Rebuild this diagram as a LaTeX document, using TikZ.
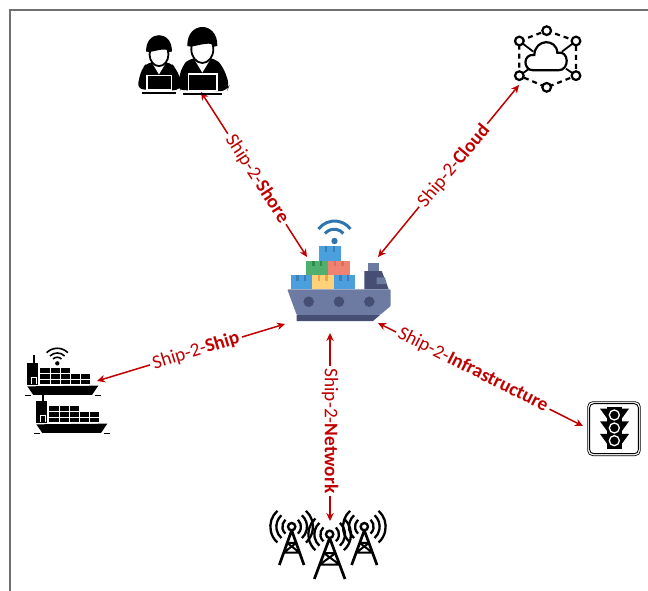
\documentclass[tikz,border=0pt]{standalone}
\usepackage{fontspec}
\setmainfont{Carlito}
\definecolor{arrowred}{HTML}{C00000}
\definecolor{framegrey}{HTML}{707070}
\definecolor{boxblue}{HTML}{4A9FDC}
\definecolor{boxbluedk}{HTML}{3A80B8}
\definecolor{boxgreen}{HTML}{4FB06D}
\definecolor{boxgreendk}{HTML}{2F8A50}
\definecolor{boxred}{HTML}{EF8270}
\definecolor{boxreddk}{HTML}{D96F5E}
\definecolor{boxyellow}{HTML}{FFD27A}
\definecolor{boxyellowdk}{HTML}{F2A24A}
\definecolor{hull}{HTML}{6D7BA3}
\definecolor{hulldk}{HTML}{464F73}
\definecolor{wifiblue}{HTML}{2E75B0}
\usetikzlibrary{arrows.meta}
\tikzset{
  x=1pt,y=-1pt,
  link/.style={draw=arrowred,line width=1.5pt,{Stealth[length=8pt,width=7.5pt]}-{Stealth[length=8pt,width=7.5pt]}},
  linklabel/.style={fill=white,text=arrowred,font=\fontsize{19.3}{21}\selectfont,inner sep=3pt},
  zoomed/.style={x=0.3333pt,y=-0.3333pt},
  node dot/.style={draw=black,fill=white,line width=2.2pt}
}
\newcommand{\crate}[6]{% x1,y1,x2,y2,fill,dark
  \fill[#5] (#1,#2) rectangle (#3,#4);
  \fill[#6] ({#1+(#3-#1)*0.26},#2) rectangle ({#1+(#3-#1)*0.38},{#2+5.5});
  \fill[#6] ({#1+(#3-#1)*0.62},#2) rectangle ({#1+(#3-#1)*0.74},{#2+5.5});
}
\newcommand{\person}{%
  \fill[black,rounded corners=7pt] (-77,50) -- (-62,-20) -- (-38,-46) -- (38,-46) -- (62,-20) -- (82,35) -- (74,54) -- cycle;
  \fill[white] (-30,-52) -- (0,-2) -- (30,-52) -- cycle;
  \draw[black,fill=white,line width=1.8pt] (0,-72) ellipse (33 and 41);
  \fill[black] (-45,-82) .. controls (-47,-158) and (47,-158) .. (45,-82) -- (34,-80) .. controls (32,-98) and (-10,-84) .. (-34,-80) -- cycle;
  \draw[white,fill=black,line width=1.3pt] (-42,2) rectangle (44,52);
  \fill[black] (-59,58) rectangle (58,65);
}
\newcommand{\cargoship}{%
  \fill[black] (70,45) rectangle (74,68);
  \fill[black] (52,68) rectangle (85,136);
  \draw[white,line width=.7pt] (63,133) -- (63,113) -- (79,113) -- (79,133);
  \fill[black] (90,85) rectangle (180,133);
  \fill[black] (180,102) rectangle (240,133);
  \draw[white,line width=.6pt] (90,101) -- (240,101) (90,118) -- (240,118);
  \draw[white,line width=.6pt] (120,85) -- (120,133) (150,85) -- (150,133) (180,85) -- (180,133) (210,102) -- (210,133);
  \fill[black] (52,139) -- (265,137) -- (246,165) -- (70,165) -- cycle;
  \draw[black,line width=.5pt] (44,166) -- (62,166) (255,166) -- (272,166);
}
\newcommand{\towerarcs}[2]{% x,y of the antenna
  \foreach \r in {28,46,64}{
    \draw[black,line width=2.3pt] ({#1+\r*cos(48)},{#2-\r*sin(48)}) arc[start angle=-48,end angle=48,radius=\r];
    \draw[black,line width=2.3pt] ({#1-\r*cos(48)},{#2-\r*sin(48)}) arc[start angle=-132,end angle=-228,radius=\r];
  }
}
\newcommand{\tower}[4]{% x,y,half base,height
  \draw[black,line width=2.4pt] (#1,#2) circle[radius=11];
  \draw[black,line width=2.7pt] (#1,{#2+11}) -- ({#1-#3},{#2+#4}) (#1,{#2+11}) -- ({#1+#3},{#2+#4});
  \draw[black,line width=2pt] ({#1-#3*.38},{#2+#4*.42}) -- ({#1+#3*.38},{#2+#4*.42})
    ({#1-#3*.65},{#2+#4*.68}) -- ({#1+#3*.65},{#2+#4*.68})
    ({#1-#3*.38},{#2+#4*.42}) -- ({#1+#3*.65},{#2+#4*.68})
    ({#1+#3*.38},{#2+#4*.42}) -- ({#1-#3*.65},{#2+#4*.68});
}
\begin{document}
\begin{tikzpicture}
\useasboundingbox (0,0) rectangle (648,591);
% frame
\draw[framegrey,line width=1.2pt] (10,591) -- (10,10) -- (648,10);

% connector ends
\coordinate (shipShore) at (307,257);
\coordinate (shoreEnd) at (201,92);
\coordinate (shipCloud) at (378,257);
\coordinate (cloudEnd) at (519,85);
\coordinate (shipShip) at (285,324);
\coordinate (shipsEnd) at (97,381);
\coordinate (shipNet) at (330,333);
\coordinate (netEnd) at (330,521);
\coordinate (shipInfra) at (378,323);
\coordinate (infraEnd) at (583,426);

\draw[link] (shipShore) -- (shoreEnd);
\draw[link] (shipCloud) -- (cloudEnd);
\draw[link] (shipShip) -- (shipsEnd);
\draw[link] (shipNet) -- (netEnd);
\draw[link] (shipInfra) -- (infraEnd);

\node[linklabel,rotate=-57] (lblShore) at (257,179) {Ship-2-\textbf{Shore}};
\node[linklabel,rotate=50] (lblCloud) at (454,166) {Ship-2-\textbf{Cloud}};
\node[linklabel,rotate=17] (lblShip) at (196,351) {Ship-2-\textbf{Ship}};
\node[linklabel,rotate=-90] (lblNet) at (330,431) {Ship-2-\textbf{Network}};
\node[linklabel,rotate=-26.7] (lblInfra) at (473,370) {Ship-2-\textbf{Infrastructure}};

% central ship
\draw[wifiblue,line width=3pt] (318.5,229) arc[start angle=-143,end angle=-37,radius=20];
\draw[wifiblue,line width=3pt] (325,233.5) arc[start angle=-140,end angle=-40,radius=12];
\fill[wifiblue] (334.5,241) circle[radius=3.2];
\crate{319.3}{246}{340.7}{260.7}{boxblue}{boxbluedk}
\crate{306.3}{260.7}{328}{275}{boxgreen}{boxgreendk}
\crate{328}{260.7}{349.7}{275}{boxred}{boxreddk}
\crate{290.7}{275}{312}{289.3}{boxblue}{boxbluedk}
\crate{312}{275}{333.7}{289.3}{boxyellow}{boxyellowdk}
\crate{333.7}{275}{355}{289.3}{boxblue}{boxbluedk}
\fill[hull] (368,262.7) rectangle (378.7,271);
\fill[hulldk] (364.3,271) -- (381.7,271) -- (388.7,289.3) -- (364.3,289.3) -- cycle;
\fill[hull] (376.7,277.3) -- (385,277.3) -- (386.7,284) -- (376.7,284) -- cycle;
\fill[hull,rounded corners=1pt] (287.3,289.3) -- (390.7,289.3) -- (390.7,306) -- (380,315) -- (296.7,315) -- cycle;
\fill[hulldk] (296.7,315) -- (380,315) -- (373,321) -- (296.7,321) -- cycle;
\foreach \px in {308.7,339,369.3}{\fill[hulldk] (\px,301.7) circle[radius=5.3];}

% shore operators
\begin{scope}[shift={(120,10)},zoomed]
  \begin{scope}[shift={(117,195)},scale=.86]\person\end{scope}
  \begin{scope}[shift={(247,190)}]\person\end{scope}
\end{scope}

% cloud
\begin{scope}[shift={(500,10)},zoomed]
  \draw[black,line width=2.2pt,dash pattern=on 5pt off 4pt] (140,62) -- (228,93) -- (228,197) -- (140,232) -- (58,197) -- (58,93) -- cycle;
  \draw[black,line width=1.8pt] (58,93) -- (100,125) (228,93) -- (186,125) (58,197) -- (88,176) (228,197) -- (198,176);
  \draw[black,fill=white,line width=2.2pt] (100,181) .. controls (68,181) and (68,130) .. (103,135) .. controls (105,85) and (170,85) .. (172,128) .. controls (208,120) and (210,181) .. (175,181) -- cycle;
  \foreach \cx/\cy in {140/62,228/93,228/197,140/232,58/197,58/93}{
    \draw[node dot] (\cx,\cy) circle[radius=13];
  }
\end{scope}

% ships
\begin{scope}[shift={(10,340)},zoomed]
  \draw[black,line width=1.6pt] (110,38) arc[start angle=-135,end angle=-45,radius=45];
  \draw[black,line width=1.6pt] (120,48) arc[start angle=-135,end angle=-45,radius=31];
  \draw[black,line width=1.6pt] (129,57) arc[start angle=-135,end angle=-45,radius=18];
  \fill[black] (142,70) circle[radius=6.5];
  \cargoship
  \begin{scope}[shift={(27,114)}]\cargoship\end{scope}
\end{scope}

% towers
\begin{scope}[shift={(260,505)},zoomed]
  \towerarcs{95}{65}
  \towerarcs{313}{65}
  \towerarcs{209}{88}
  \tower{95}{65}{37}{115}
  \tower{313}{65}{38}{115}
  \tower{209}{88}{46}{134}
\end{scope}

% traffic light
\begin{scope}[shift={(575,390)},zoomed]
  \draw[black,line width=.7pt,rounded corners=5pt] (38,35) rectangle (196,197);
  \draw[black,line width=.9pt,rounded corners=4pt] (44,41) rectangle (190,191);
  \fill[black] (97,50) rectangle (140,178);
  \fill[black] (75,56) -- (97,56) -- (97,86) -- cycle;
  \fill[black] (75,94) -- (97,94) -- (97,124) -- cycle;
  \fill[black] (75,132) -- (97,132) -- (97,162) -- cycle;
  \fill[black] (162,56) -- (140,56) -- (140,86) -- cycle;
  \fill[black] (162,94) -- (140,94) -- (140,124) -- cycle;
  \fill[black] (162,132) -- (140,132) -- (140,162) -- cycle;
  \foreach \ly in {75,114,152}{
    \draw[white,fill=black,line width=1.3pt] (118,\ly) circle[radius=15];
  }
\end{scope}
\end{tikzpicture}
\end{document}
